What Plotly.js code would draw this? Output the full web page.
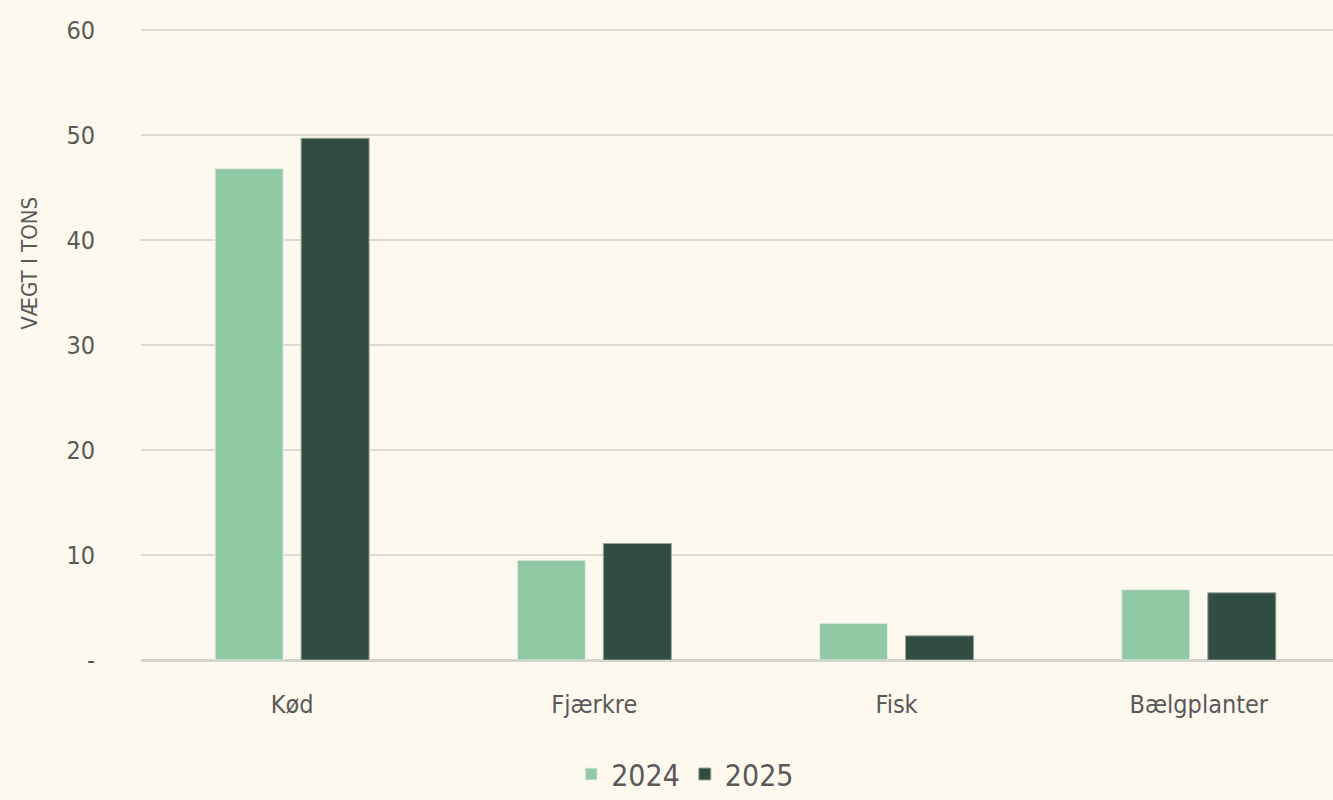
<!DOCTYPE html>
<html>
<head>
<meta charset="utf-8">
<script src="https://cdn.plot.ly/plotly-3.0.1.min.js"></script>
<style>
html,body{margin:0;padding:0;background:#FEF9EF;}
#chart{width:1333px;height:800px;}
</style>
</head>
<body>
<div id="chart"></div>
<script>
const categories = ["Kød", "Fjærkre", "Fisk", "Bælgplanter"];
const values2024 = [46.8, 9.5, 3.5, 6.7];
const values2025 = [49.7, 11.1, 2.3, 6.4];
const seriesNames = ["2024", "2025"];
const yTickVals = [0, 10, 20, 30, 40, 50, 60];
const yTickText = ["-", "10", "20", "30", "40", "50", "60"];
const yTitle = "VÆGT I TONS";

const FONT = '"DejaVu Sans Condensed", "Liberation Sans Narrow", sans-serif';
const TXT = '#595959';

const traces = [
  {type:'bar', name:seriesNames[0], x:categories, y:values2024,
   marker:{color:'#92C9A5', line:{color:'#E4EFE6', width:1}}},
  {type:'bar', name:seriesNames[1], x:categories, y:values2025,
   marker:{color:'#314D42', line:{color:'#9AA59E', width:1}}}
];

const layout = {
  width:1333, height:800,
  paper_bgcolor:'#FEF9EF', plot_bgcolor:'#FEF9EF',
  margin:{l:141, r:0, t:28, b:140, autoexpand:false},
  barmode:'group', bargap:0.431, bargroupgap:0.209,
  font:{family:FONT, color:TXT, size:25},
  showlegend:true,
  legend:{orientation:'h', x:0.514, xref:'container', xanchor:'center',
          y:0.0, yref:'container', yanchor:'bottom',
          font:{size:30, color:TXT, family:FONT}, traceorder:'normal',
          bgcolor:'rgba(0,0,0,0)'},
  xaxis:{range:[-0.5, 3.444], showgrid:false, zeroline:false, showline:false,
         ticks:'outside', ticklen:22, tickcolor:'rgba(0,0,0,0)',
         tickfont:{size:25, color:TXT, family:FONT}, fixedrange:true},
  yaxis:{range:[0,60.2], tickvals:yTickVals, ticktext:yTickText,
         showgrid:true, gridcolor:'#DCDAD5', gridwidth:2,
         zeroline:true, zerolinecolor:'#D6D4CF', zerolinewidth:3,
         showline:false, ticks:'outside', ticklen:40, tickcolor:'rgba(0,0,0,0)',
         tickfont:{size:25, color:TXT, family:FONT},
         fixedrange:true},
  annotations:[{text:yTitle, textangle:-90, xref:'paper', yref:'paper',
                x:-0.0931, y:0.627, xanchor:'center', yanchor:'middle', showarrow:false,
                font:{size:22, color:TXT, family:FONT}}]
};

Plotly.newPlot('chart', traces, layout, {displayModeBar:false, staticPlot:true});
</script>
</body>
</html>
